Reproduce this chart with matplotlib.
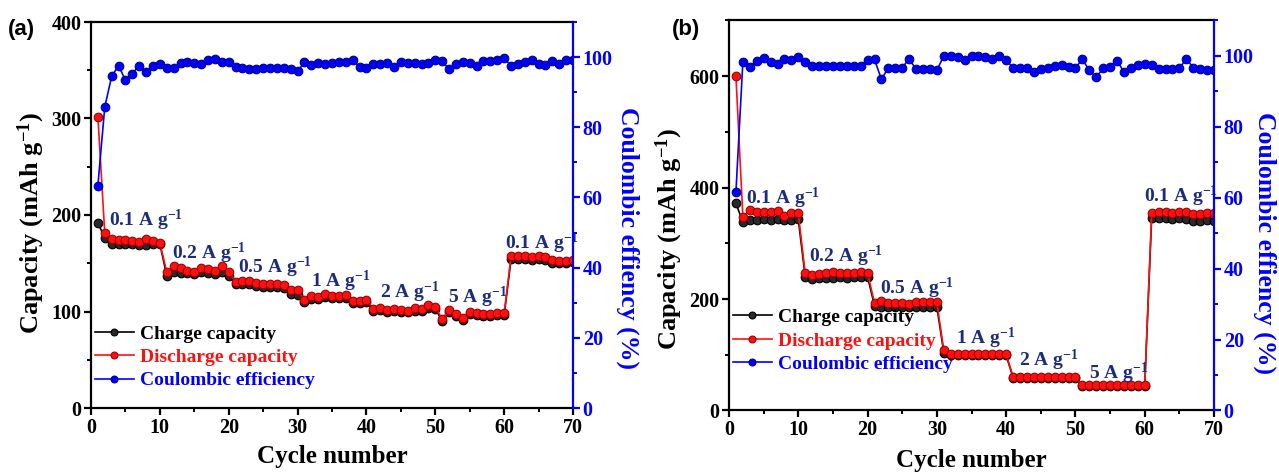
import numpy as np
import matplotlib
matplotlib.use("Agg")
import matplotlib.pyplot as plt
from matplotlib.ticker import MultipleLocator

plt.rcParams['font.family'] = ['Liberation Serif', 'DejaVu Serif']
plt.rcParams['font.weight'] = 'bold'
plt.rcParams['mathtext.fontset'] = 'custom'
plt.rcParams['mathtext.rm'] = 'Liberation Serif:bold'
plt.rcParams['mathtext.it'] = 'Liberation Serif:bold:italic'
plt.rcParams['mathtext.bf'] = 'Liberation Serif:bold'

cycles = np.arange(1, 71)

# ---------------- panel (a) ----------------
charge_a = [192, 176, 170, 170, 170, 170, 169, 169, 170, 170,
            137, 141, 140, 140, 139, 141, 140, 139, 141, 137,
            128, 128, 128, 126, 125, 125, 125, 124, 118, 117,
            110, 113, 113, 115, 114, 114, 114, 109, 109, 110,
            101, 102, 100, 101, 100, 99, 101, 101, 104, 103,
            90, 100, 95, 91, 97, 96, 95, 95, 96, 96,
            154, 154, 154, 153, 154, 153, 150, 150, 150, 151]
discharge_a = [302, 181, 175, 174, 174, 173, 172, 175, 173, 171,
               141, 147, 145, 142, 141, 145, 144, 142, 147, 141,
               131, 132, 132, 130, 128, 128, 128, 127, 122, 122,
               112, 116, 115, 118, 116, 116, 117, 111, 111, 112,
               103, 104, 102, 103, 102, 101, 104, 103, 107, 105,
               92, 102, 97, 93, 99, 98, 97, 97, 98, 98,
               157, 157, 157, 156, 157, 156, 153, 152, 152, 153]
ce_a = [63.4, 85.8, 94.5, 97.6, 93.4, 95.3, 97.6, 95.7, 97.6, 98.0,
        97.0, 97.0, 98.3, 98.5, 98.3, 98.0, 99.2, 99.5, 98.5, 98.7,
        97.3, 97.0, 96.7, 96.7, 97.0, 97.0, 97.0, 96.8, 96.7, 96.0,
        98.5, 97.7, 98.3, 98.0, 98.3, 98.5, 98.7, 99.2, 97.2, 97.0,
        98.0, 98.0, 98.2, 97.3, 98.5, 98.2, 98.2, 98.0, 98.4, 99.3,
        98.8, 96.6, 98.0, 98.7, 98.2, 97.5, 99.0, 99.0, 99.3, 99.7,
        97.5, 98.0, 98.5, 99.3, 98.0, 97.7, 98.8, 98.0, 99.2, 99.2]
rates_a = ["0.1 A g", "0.2 A g", "0.5 A g", "1 A g", "2 A g", "5 A g", "0.1 A g"]
rate_x_a = [2.6, 11.7, 21.4, 32.0, 41.9, 51.8, 60.1]
rate_y_a = [188, 154, 140, 125, 114, 109, 165]

# ---------------- panel (b) ----------------
charge_b = [372, 338, 342, 342, 343, 342, 343, 342, 342, 343,
            240, 236, 237, 238, 238, 239, 238, 239, 240, 240,
            188, 185, 185, 186, 186, 186, 186, 186, 186, 186,
            104, 99, 99, 99, 99, 99, 99, 99, 99, 99,
            59, 59, 59, 59, 59, 59, 59, 59, 59, 59,
            44, 44, 44, 44, 44, 44, 44, 44, 44, 44,
            345, 345, 346, 344, 346, 343, 340, 341, 342, 341]
discharge_b = [600, 348, 360, 356, 356, 356, 358, 349, 354, 354,
               246, 244, 245, 246, 248, 246, 246, 247, 249, 247,
               193, 197, 193, 193, 193, 192, 194, 194, 194, 194,
               108, 101, 101, 101, 101, 101, 101, 101, 101, 101,
               61, 61, 61, 61, 61, 61, 61, 61, 61, 61,
               45, 45, 45, 45, 45, 45, 45, 45, 45, 45,
               354, 356, 357, 355, 357, 357, 353, 353, 354, 355]
ce_b = [61.6, 98.3, 96.8, 98.6, 99.4, 98.3, 97.8, 99.0, 98.9, 99.7,
        98.3, 97.3, 97.3, 97.3, 97.3, 97.3, 97.3, 97.3, 97.3, 98.9,
        99.0, 93.4, 96.7, 96.7, 96.7, 99.2, 96.2, 96.2, 96.2, 96.0,
        100.0, 100.0, 99.7, 98.8, 100.0, 100.0, 99.6, 99.0, 100.0, 98.8,
        96.7, 96.7, 96.7, 95.5, 96.2, 96.7, 97.2, 97.5, 97.0, 96.7,
        99.0, 96.0, 94.0, 96.5, 97.0, 98.7, 95.5, 96.5, 97.5, 97.7,
        97.5, 96.2, 96.2, 96.2, 96.5, 99.2, 96.7, 96.2, 96.0, 96.0]
rates_b = ["0.1 A g", "0.2 A g", "0.5 A g", "1 A g", "2 A g", "5 A g", "0.1 A g"]
rate_x_b = [2.45, 11.5, 21.8, 32.7, 41.9, 52.0, 59.9]
rate_y_b = [370, 267, 209, 119, 80, 56, 374]

series_labels = ["Charge capacity", "Discharge capacity", "Coulombic efficiency"]

NAVY = "#1c2b7c"
BLUE = "#0000ff"
RED = "#ff1010"

fig = plt.figure(figsize=(12.79, 4.73), dpi=100)


def draw_panel(rect, charge, discharge, ce, ymax, ystep, rates, rx, ry,
               legend_anchor, tag, tagx, lab_x, lab_y, rlab_x, rlab_y, xlab_y):
    ax = fig.add_axes(rect)
    ax2 = ax.twinx()
    ms = 6.2
    l1, = ax.plot(cycles, charge, '-o', color='black', lw=1.2, ms=ms,
                  mfc='#2a2a2a', mec='black', mew=0.8, zorder=3)
    l2, = ax.plot(cycles, discharge, '-o', color=RED, lw=1.2, ms=ms,
                  mfc=RED, mec='#a00000', mew=0.8, zorder=4)
    l3, = ax2.plot(cycles, ce, '-o', color=BLUE, lw=1.2, ms=ms,
                   mfc=BLUE, mec='#000090', mew=0.8, zorder=3)

    ax.set_xlim(0, 70)
    ax.set_ylim(0, ymax)
    ax2.set_ylim(0, 110)
    ax.xaxis.set_major_locator(MultipleLocator(10))
    ax.xaxis.set_minor_locator(MultipleLocator(5))
    ax.yaxis.set_major_locator(MultipleLocator(ystep))
    ax.yaxis.set_minor_locator(MultipleLocator(ystep / 2))
    ax2.yaxis.set_major_locator(MultipleLocator(20))
    ax2.yaxis.set_minor_locator(MultipleLocator(10))

    for sp in ['left', 'bottom', 'top']:
        ax.spines[sp].set_linewidth(1.6)
    ax.spines['right'].set_visible(False)
    for sp in ['left', 'bottom', 'top']:
        ax2.spines[sp].set_visible(False)
    ax2.spines['right'].set_linewidth(1.6)
    ax2.spines['right'].set_color(BLUE)

    ax.tick_params(axis='both', which='major', direction='out', length=5, width=1.6,
                   labelsize=14.5, pad=2)
    ax.tick_params(axis='both', which='minor', direction='out', length=3, width=1.4)
    ax.tick_params(axis='x', top=False, which='both')
    ax2.tick_params(axis='y', which='major', direction='out', length=5, width=1.6,
                    labelsize=14.5, colors=BLUE, pad=2)
    ax2.tick_params(axis='y', which='minor', direction='out', length=3, width=1.4,
                    colors=BLUE)
    for lab in ax.get_xticklabels() + ax.get_yticklabels() + ax2.get_yticklabels():
        lab.set_fontweight('bold')

    ax.set_xlabel("Cycle number", fontsize=18, fontweight='bold')
    ax.xaxis.set_label_coords(0.5, xlab_y)
    ax.set_ylabel(r"Capacity (mAh g$^{-1}$)", fontsize=19, fontweight='bold')
    ax.yaxis.set_label_coords(lab_x, lab_y)
    ax2.set_ylabel("Coulombic effiency (%)", fontsize=18.5, fontweight='bold',
                   color=BLUE, rotation=270, va='bottom')
    ax2.yaxis.set_label_coords(rlab_x, rlab_y)

    for t, x, y in zip(rates, rx, ry):
        ax.text(x, y, t + r"$^{-1}$", fontsize=14, fontweight='bold', color=NAVY,
                ha='left', va='baseline', zorder=6)

    ax.legend([l1, l2, l3], series_labels, loc='lower left',
              bbox_to_anchor=legend_anchor, frameon=False, fontsize=14,
              handlelength=2.0, handletextpad=0.3, labelspacing=0.3,
              borderaxespad=0, borderpad=0, markerscale=0.8,
              labelcolor=['black', RED, BLUE])

    fig.text(tagx, 1 - 30 / 473, tag, fontsize=16, fontweight='bold',
             family=['Liberation Sans', 'DejaVu Sans'], va='center', ha='left')
    return ax, ax2


draw_panel([91 / 1279, 1 - 408 / 473, (573 - 91) / 1279, (408 - 22) / 473],
           charge_a, discharge_a, ce_a, 400, 100, rates_a, rate_x_a, rate_y_a,
           (0.008, 0.048), "(a)", 8 / 1279,
           -0.092, 0.48, 1.089, 0.44, -0.096)
draw_panel([729 / 1279, 1 - 410.5 / 473, (1214 - 729) / 1279, (410.5 - 20.5) / 473],
           charge_b, discharge_b, ce_b, 700, 200, rates_b, rate_x_b, rate_y_b,
           (0.008, 0.096), "(b)", 672 / 1279,
           -0.09, 0.44, 1.080, 0.43, -0.099)

fig.savefig("out.png", dpi=100)
